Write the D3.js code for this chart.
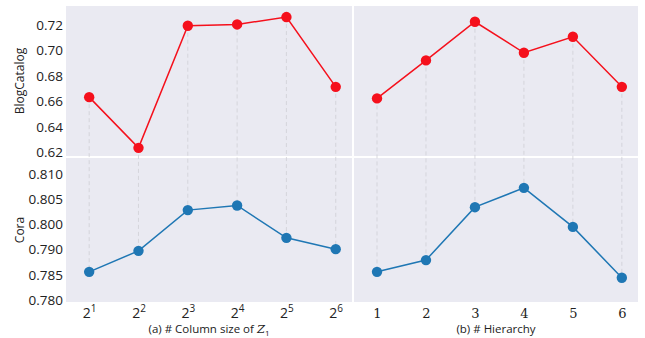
<!DOCTYPE html>
<html>
<head>
<meta charset="utf-8">
<script src="https://cdn.jsdelivr.net/npm/d3@7"></script>
<style>
  body { margin: 0; background: #fff; }
  text { font-family: "Open Sans", "Noto Sans", sans-serif; fill: #222; }
</style>
</head>
<body>
<div id="chart"></div>
<script>
// -------------------------------
// 1) Data
// -------------------------------
const xPositions = [1, 2, 3, 4, 5, 6];
const columnExponents = ["1", "2", "3", "4", "5", "6"];
const hierarchyLabels = ["1", "2", "3", "4", "5", "6"];

const blogColumn = [0.6633, 0.6234, 0.7195, 0.7205, 0.7263, 0.6714];
const blogHierarchy = [0.6623, 0.6922, 0.7226, 0.6982, 0.7108, 0.6714];
const coraColumn = [0.7867, 0.7917, 0.8014, 0.8025, 0.7948, 0.7921];
const coraHierarchy = [0.7867, 0.7895, 0.8021, 0.8067, 0.7974, 0.7853];

const blogTicks = [0.62, 0.64, 0.66, 0.68, 0.70, 0.72];
const blogTickLabels = ["0.62", "0.64", "0.66", "0.68", "0.70", "0.72"];
const coraTicks = [0.780, 0.786, 0.792, 0.798, 0.804, 0.810];
const coraTickLabels = ["0.780", "0.785", "0.790", "0.800", "0.805", "0.810"];

// -------------------------------
// 2) Layout
// -------------------------------
const width = 645, height = 338;
const colX = [[66, 352], [354, 638]];
const rowY = [[6, 156], [158, 302]];

const svg = d3.select("#chart").append("svg")
  .attr("width", width)
  .attr("height", height);

// -------------------------------
// 3) Scales
// -------------------------------
const xScales = colX.map(r => d3.scaleLinear().domain([0.53, 6.33]).range(r));
const yBlog = d3.scaleLinear().domain([0.6170, 0.7350]).range([rowY[0][1], rowY[0][0]]);
const yCora = d3.scaleLinear().domain([0.77952, 0.81381]).range([rowY[1][1], rowY[1][0]]);

// panel backgrounds
colX.forEach(cx => {
  rowY.forEach(ry => {
    svg.append("rect")
      .attr("x", cx[0]).attr("y", ry[0])
      .attr("width", cx[1] - cx[0]).attr("height", ry[1] - ry[0])
      .attr("fill", "#eaeaf2");
  });
});

// -------------------------------
// 4) Dashed connectors between rows
// -------------------------------
const panels = [
  { x: xScales[0], top: blogColumn, bottom: coraColumn },
  { x: xScales[1], top: blogHierarchy, bottom: coraHierarchy }
];

panels.forEach(p => {
  svg.append("g").selectAll("line")
    .data(xPositions)
    .join("line")
    .attr("x1", d => p.x(d)).attr("x2", d => p.x(d))
    .attr("y1", (d, i) => yBlog(p.top[i]))
    .attr("y2", (d, i) => yCora(p.bottom[i]))
    .attr("stroke", "#cfcfd6")
    .attr("stroke-width", 0.8)
    .attr("stroke-dasharray", "4,3");
});

// -------------------------------
// 5) Lines and markers
// -------------------------------
function drawSeries(xs, ys, values, color) {
  const line = d3.line()
    .x((d, i) => xs(xPositions[i]))
    .y(d => ys(d));
  svg.append("path")
    .datum(values)
    .attr("d", line)
    .attr("fill", "none")
    .attr("stroke", color)
    .attr("stroke-width", 1.5);
  svg.append("g").selectAll("circle")
    .data(values)
    .join("circle")
    .attr("cx", (d, i) => xs(xPositions[i]))
    .attr("cy", d => ys(d))
    .attr("r", 5.2)
    .attr("fill", color);
}

panels.forEach(p => {
  drawSeries(p.x, yBlog, p.top, "#f5101c");
  drawSeries(p.x, yCora, p.bottom, "#1f77b4");
});

// -------------------------------
// 6) Axes
// -------------------------------
const yAxisBlog = d3.axisLeft(yBlog).tickValues(blogTicks)
  .tickFormat((d, i) => blogTickLabels[i]).tickSize(0).tickPadding(3);
const yAxisCora = d3.axisLeft(yCora).tickValues(coraTicks)
  .tickFormat((d, i) => coraTickLabels[i]).tickSize(0).tickPadding(3);

[yAxisBlog, yAxisCora].forEach(ax => {
  const g = svg.append("g").attr("transform", `translate(${colX[0][0]},0)`).call(ax);
  g.select(".domain").remove();
  g.selectAll("text").style("font-size", "13.5px").attr("fill", "#222");
});

// x axis left: powers of two
const xAxisLeft = svg.append("g")
  .attr("transform", `translate(0,${rowY[1][1]})`)
  .call(d3.axisBottom(xScales[0]).tickValues(xPositions).tickSize(0).tickFormat(""));
xAxisLeft.select(".domain").remove();
xAxisLeft.selectAll(".tick").each(function (d, i) {
  const t = d3.select(this).append("text")
    .attr("y", 16)
    .attr("text-anchor", "middle")
    .style("font-size", "14px")
    .attr("fill", "#222");
  t.append("tspan").text("2");
  t.append("tspan").attr("dy", -6).style("font-size", "10px").text(columnExponents[i]);
});

// x axis right: hierarchy levels
const xAxisRight = svg.append("g")
  .attr("transform", `translate(0,${rowY[1][1]})`)
  .call(d3.axisBottom(xScales[1]).tickValues(xPositions).tickSize(0)
    .tickFormat((d, i) => hierarchyLabels[i]).tickPadding(7));
xAxisRight.select(".domain").remove();
xAxisRight.selectAll("text")
  .style("font-size", "13px")
  .style("font-family", "'DejaVu Serif', 'Liberation Serif', serif")
  .attr("fill", "#222");

// -------------------------------
// 7) Labels
// -------------------------------
const xl = svg.append("text")
  .attr("x", (colX[0][0] + colX[0][1]) / 2)
  .attr("y", 333)
  .attr("text-anchor", "middle")
  .style("font-size", "11.5px");
xl.append("tspan").text("(a) # Column size of ");
xl.append("tspan").style("font-style", "italic").style("font-family", "'DejaVu Serif', serif").text("Z");
xl.append("tspan").attr("dy", 3).style("font-size", "8px").text("1");

svg.append("text")
  .attr("x", (colX[1][0] + colX[1][1]) / 2)
  .attr("y", 333)
  .attr("text-anchor", "middle")
  .style("font-size", "11.5px")
  .text("(b) # Hierarchy");

svg.append("text")
  .attr("transform", `translate(24,${(rowY[0][0] + rowY[0][1]) / 2}) rotate(-90)`)
  .attr("text-anchor", "middle")
  .style("font-size", "12px")
  .text("BlogCatalog");

svg.append("text")
  .attr("transform", `translate(24,${(rowY[1][0] + rowY[1][1]) / 2}) rotate(-90)`)
  .attr("text-anchor", "middle")
  .style("font-size", "12px")
  .text("Cora");
</script>
</body>
</html>
